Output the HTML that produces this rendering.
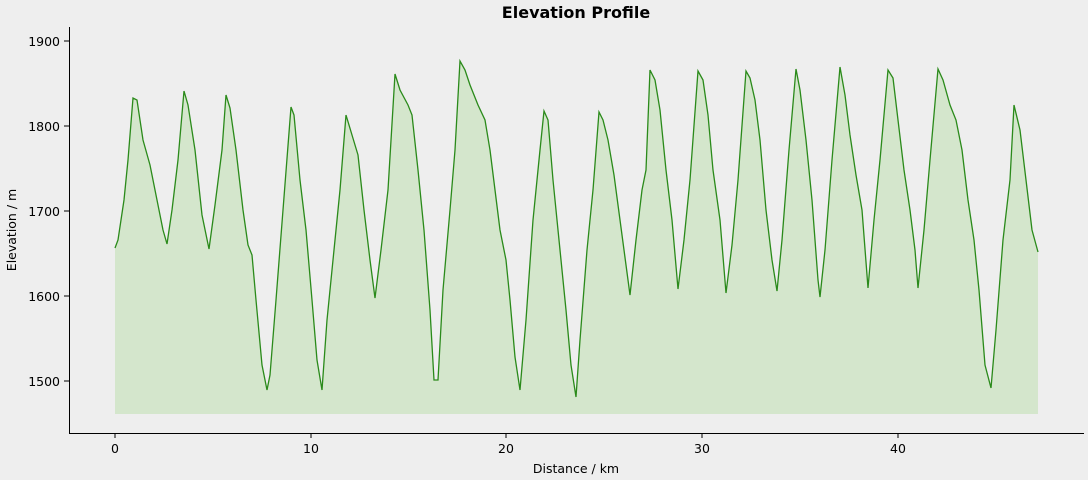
<!DOCTYPE html>
<html><head><meta charset="utf-8"><style>
html,body{margin:0;padding:0;background:#eeeeee;}
svg{display:block;font-family:"DejaVu Sans","Liberation Sans",sans-serif;}
</style></head><body>
<svg width="1088" height="480" viewBox="0 0 1088 480" xmlns="http://www.w3.org/2000/svg">
<rect width="1088" height="480" fill="#eeeeee"/>
<text x="576" y="18" text-anchor="middle" font-size="16" font-weight="bold" fill="#000">Elevation Profile</text>
<defs>
<polyline id="d" points="115,248 118,240 124,200 128,160 133,98 137,100 143,140 150,165 157,200 163,230 167,244 172,210 178,160 184,91 188,105 195,150 202,215 209,249 215,205 222,150 226,95 230,108 236,150 243,210 248,245 252,255 256,300 262,365 267,390 270,375 276,300 283,210 291,107 294,115 300,180 306,230 312,300 317,360 322,390 327,320 334,250 340,190 346,115 352,135 358,155 364,210 370,260 375,298 381,250 388,190 395,74 400,90 408,105 412,115 418,170 424,230 430,310 434,380 438,380 443,290 450,210 455,150 460,61 465,70 470,85 478,105 485,120 490,150 495,190 500,230 506,260 510,300 515,357 520,390 526,320 533,220 540,150 544,111 548,120 553,180 560,250 566,310 571,365 576,397 580,340 587,250 593,190 599,112 603,120 608,140 614,175 620,220 626,265 630,295 636,240 642,190 646,170 650,70 655,80 660,110 666,170 672,220 678,289 684,240 690,180 698,71 703,80 708,115 713,170 720,220 726,293 732,245 738,180 746,71 750,78 755,100 760,140 766,210 772,260 777,291 782,240 789,150 796,69 800,90 806,140 812,200 818,280 820,297 825,250 832,160 840,67 845,95 850,135 856,175 862,210 868,288 874,220 880,160 888,70 893,78 898,120 904,170 910,210 915,250 918,288 924,230 930,160 938,69 943,80 950,105 956,120 962,150 968,200 974,240 979,290 985,365 991,388 996,330 1003,240 1010,180 1014,105 1020,130 1026,180 1032,230 1038,252"/>
</defs>
<polygon fill="#d4e6cc" points="115,414 115,248 118,240 124,200 128,160 133,98 137,100 143,140 150,165 157,200 163,230 167,244 172,210 178,160 184,91 188,105 195,150 202,215 209,249 215,205 222,150 226,95 230,108 236,150 243,210 248,245 252,255 256,300 262,365 267,390 270,375 276,300 283,210 291,107 294,115 300,180 306,230 312,300 317,360 322,390 327,320 334,250 340,190 346,115 352,135 358,155 364,210 370,260 375,298 381,250 388,190 395,74 400,90 408,105 412,115 418,170 424,230 430,310 434,380 438,380 443,290 450,210 455,150 460,61 465,70 470,85 478,105 485,120 490,150 495,190 500,230 506,260 510,300 515,357 520,390 526,320 533,220 540,150 544,111 548,120 553,180 560,250 566,310 571,365 576,397 580,340 587,250 593,190 599,112 603,120 608,140 614,175 620,220 626,265 630,295 636,240 642,190 646,170 650,70 655,80 660,110 666,170 672,220 678,289 684,240 690,180 698,71 703,80 708,115 713,170 720,220 726,293 732,245 738,180 746,71 750,78 755,100 760,140 766,210 772,260 777,291 782,240 789,150 796,69 800,90 806,140 812,200 818,280 820,297 825,250 832,160 840,67 845,95 850,135 856,175 862,210 868,288 874,220 880,160 888,70 893,78 898,120 904,170 910,210 915,250 918,288 924,230 930,160 938,69 943,80 950,105 956,120 962,150 968,200 974,240 979,290 985,365 991,388 996,330 1003,240 1010,180 1014,105 1020,130 1026,180 1032,230 1038,252 1038,414"/>
<use href="#d" fill="none" stroke="#2a8a1a" stroke-width="1.3"/>
<g stroke="#000" stroke-width="1">
<line x1="69.5" y1="27" x2="69.5" y2="433.5"/>
<line x1="69" y1="433.5" x2="1084" y2="433.5"/>
<line x1="115" y1="433" x2="115" y2="438"/>
<line x1="311" y1="433" x2="311" y2="438"/>
<line x1="506" y1="433" x2="506" y2="438"/>
<line x1="702" y1="433" x2="702" y2="438"/>
<line x1="898" y1="433" x2="898" y2="438"/>
<line x1="64" y1="41" x2="69" y2="41"/>
<line x1="64" y1="126" x2="69" y2="126"/>
<line x1="64" y1="211" x2="69" y2="211"/>
<line x1="64" y1="296" x2="69" y2="296"/>
<line x1="64" y1="381" x2="69" y2="381"/>
</g>
<g font-size="12.5" fill="#000" text-anchor="middle">
<text x="115" y="453">0</text><text x="311" y="453">10</text><text x="506" y="453">20</text><text x="702" y="453">30</text><text x="898" y="453">40</text>
<text x="576" y="473">Distance / km</text>
</g>
<g font-size="12.5" fill="#000" text-anchor="end">
<text x="60" y="46">1900</text><text x="60" y="131">1800</text><text x="60" y="216">1700</text><text x="60" y="301">1600</text><text x="60" y="386">1500</text>
</g>
<text transform="translate(16,230) rotate(-90)" font-size="12.5" text-anchor="middle" fill="#000">Elevation / m</text>
</svg>
</body></html>
